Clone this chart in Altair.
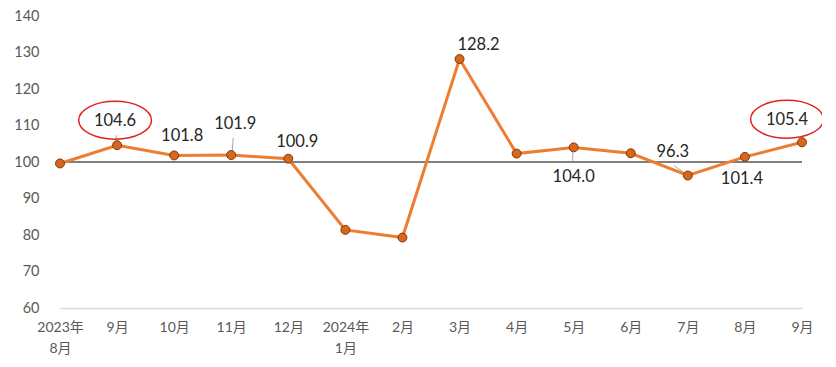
import altair as alt
import pandas as pd

months = ["2023年|8月", "9月", "10月", "11月", "12月", "2024年|1月", "2月", "3月",
          "4月", "5月", "6月", "7月", "8月", "9月 "]
values = [99.6, 104.6, 101.8, 101.9, 100.9, 81.4, 79.3, 128.2,
          102.3, 104.0, 102.4, 96.3, 101.4, 105.4]
y_ticks = [60, 70, 80, 90, 100, 110, 120, 130, 140]
baseline = [100]

# labelled points: (index, dx, dy)
label_pos = [(1, -2, -24), (2, 8, -19), (3, 4, -31), (4, 9, -17), (7, 19, -14),
             (9, 0, 30), (11, -15, -24), (12, -3, 22), (13, -15, -22)]
circled = [1, 13]
# leader lines: (index, x1, y1, x2, y2) pixel offsets from point
leaders = [(1, -1, -5, -1, -10), (3, 1, -4, 2, -17), (9, -1, 5, -1, 14),
           (11, -4, -3, -14, -10)]

df = pd.DataFrame({"m": months, "v": values})

FONT = "Lato, Noto Sans CJK SC"

x = alt.X("m:N", sort=months, scale=alt.Scale(type="point", padding=0),
          axis=alt.Axis(title=None, labelAngle=0, labelExpr="split(datum.value, '|')",
                        labelFont=FONT, labelFontSize=14, labelColor="#595959",
                        labelPadding=12, labelLineHeight=21, ticks=False,
                        labelOverlap=False,
                        domainColor="#D9D9D9", domainWidth=1.5, grid=False))
y = alt.Y("v:Q", scale=alt.Scale(domain=[60, 140], nice=False, zero=False),
          axis=alt.Axis(title=None, values=y_ticks, labelFont=FONT, labelFontSize=14.5,
                        labelColor="#595959", labelPadding=21, ticks=False,
                        labelOverlap=False, domain=False, grid=False))

base = alt.Chart(df)

ref = alt.Chart(pd.DataFrame({"v": baseline})).mark_rule(color="#7F7F7F", strokeWidth=2).encode(y=y)

line = base.mark_line(color="#ED7D31", strokeWidth=3).encode(x=x, y=y)
pts = base.mark_point(shape="circle", filled=True, size=80, fill="#D9661A",
                      stroke="#7A3A0C", strokeWidth=1, opacity=1).encode(x=x, y=y)

layers = [ref, line]

for i, x1, y1, x2, y2 in leaders:
    d = df.iloc[[i]]
    layers.append(alt.Chart(d).mark_rule(color="#A6A6A6", strokeWidth=1,
                                         xOffset=x1, yOffset=y1, x2Offset=x2, y2Offset=y2).encode(
        x=x, y=y, x2="m:N", y2="v:Q"))

layers.append(pts)

for i, dx, dy in label_pos:
    d = df.iloc[[i]]
    layers.append(alt.Chart(d).mark_text(font=FONT, fontSize=16.5, color="#262626",
                                         dx=dx, dy=dy).encode(
        x=x, y=y, text=alt.Text("v:Q", format=".1f")))
    if i in circled:
        layers.append(alt.Chart(d).mark_point(
            shape="M-1,0 A1,0.52 0 1,0 1,0 A1,0.52 0 1,0 -1,0 Z",
            size=5300, filled=False, stroke="#E02020", strokeWidth=1.5, opacity=1,
            xOffset=dx, yOffset=dy - 1).encode(x=x, y=y))

chart = alt.layer(*layers).properties(
    width=742, height=292,
    padding={"left": 52, "top": 8, "right": 20, "bottom": 55},
    autosize=alt.AutoSizeParams(type="none"),
).configure_view(stroke=None)

chart.save("out.html", embed_options={"renderer": "svg", "actions": False})
